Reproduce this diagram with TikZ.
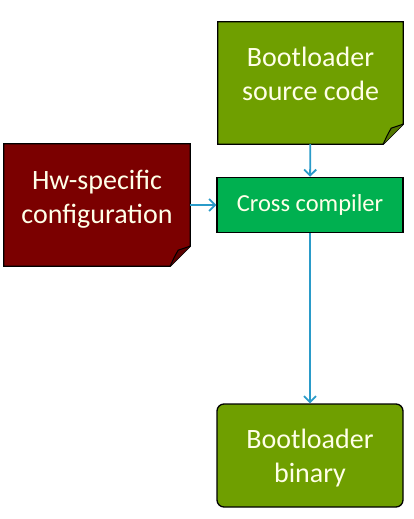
\documentclass[tikz,border=0pt]{standalone}
\usepackage{fontspec}
\setmainfont{Carlito}
\usetikzlibrary{arrows.meta,backgrounds}

\definecolor{olivebox}{HTML}{6F9F00}
\definecolor{redbox}{HTML}{7B0000}
\definecolor{ccbox}{HTML}{00B050}
\definecolor{arrowblue}{HTML}{2A9BC9}
\definecolor{boxtext}{HTML}{FFFFE8}

\tikzset{
  boxlabel/.style={text=boxtext, align=center, inner sep=0pt,
    font=\fontsize{28}{34}\selectfont},
  flow/.style={draw=arrowblue, line width=1.8pt,
    -{Straight Barb[length=6pt,width=12pt,line width=1.8pt]}},
}

\begin{document}
\begin{tikzpicture}[x=1pt, y=-1pt]
				\useasboundingbox (0,0) rectangle (414,519);
				% Boxes
				\node[minimum width=185pt, minimum height=122pt,
				  label={[boxlabel, yshift=9pt]center:Bootloader\\source code}] (src) at (310.5,83) {};
				\node[minimum width=186pt, minimum height=122pt,
				  label={[boxlabel, yshift=6pt]center:Hw-specific\\configuration}] (hw) at (97,205) {};
				\node[boxlabel, draw=black, line width=1.3pt, fill=ccbox, minimum width=186pt, minimum height=55pt,
				  font=\fontsize{24.5}{28}\selectfont] (cc) at (310,205) {Cross compiler};
				\node[draw=black, line width=1.3pt, fill=olivebox, rounded corners=7pt,
				  minimum width=186pt, minimum height=103pt,
				  label={[boxlabel, yshift=-3pt]center:Bootloader\\binary}] (bin) at (310,455.5) {};
				
				% Folded corners
				\begin{scope}[on background layer]
					\foreach \b/\c in {src/olivebox, hw/redbox} {
						\draw[fill=\c, line width=1.3pt] (\b.north west) -- (\b.north east)
						  -- ([yshift=20pt]\b.south east) -- ([xshift=-20pt]\b.south east)
						  -- (\b.south west) -- cycle;
						\draw[fill=\c!75!black, line width=1pt] ([xshift=-20pt]\b.south east)
						  .. controls ([xshift=-16pt,yshift=9pt]\b.south east) .. ([xshift=-12pt,yshift=16pt]\b.south east)
						  -- ([yshift=20pt]\b.south east);
					}
				\end{scope}
				
				% Arrows
				\draw[flow] (src) -- (cc);
				\draw[flow] (hw) -- (cc);
				\draw[flow] (cc) -- (bin);
			\end{tikzpicture}
\end{document}
